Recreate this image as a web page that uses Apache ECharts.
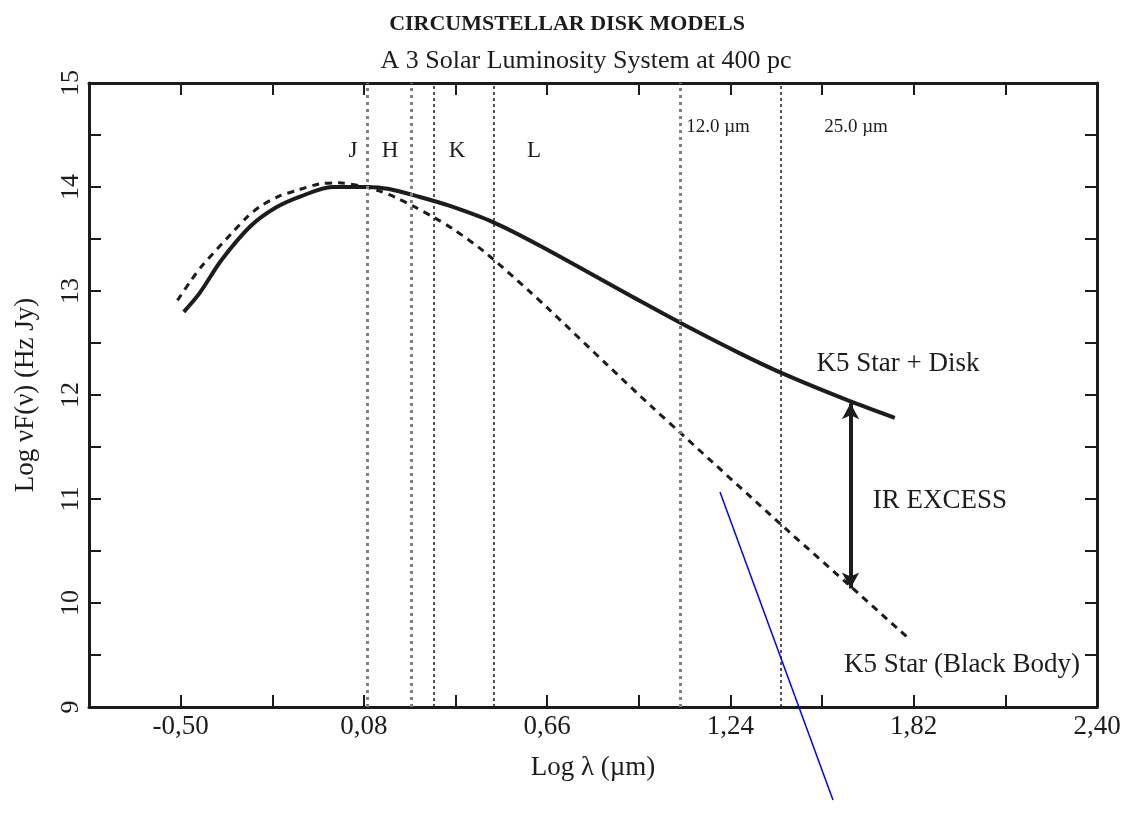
<!DOCTYPE html>
<html>
<head>
<meta charset="utf-8">
<script src="https://cdn.jsdelivr.net/npm/echarts@6/dist/echarts.min.js"></script>
<style>
html, body { margin: 0; background: #fff; }
#chart { width: 1126px; height: 814px; }
</style>
</head>
<body>
<div id="chart"></div>
<script>
// values: x = log lambda (um), y = log nuF(nu) (Hz Jy)
const diskX = [-0.49, -0.44, -0.37, -0.28, -0.20, -0.12, -0.02, 0.09, 0.16, 0.25, 0.35, 0.49, 0.64, 0.95, 1.09, 1.27, 1.41, 1.61, 1.76];
const diskY = [12.80, 12.98, 13.30, 13.62, 13.80, 13.91, 14.00, 14.00, 13.98, 13.91, 13.82, 13.66, 13.43, 12.91, 12.68, 12.40, 12.20, 11.95, 11.78];

const starX = [-0.51, -0.47, -0.43, -0.34, -0.29, -0.25, -0.19, -0.13, -0.06, 0.00, 0.07, 0.13, 0.18, 0.24, 0.30, 0.36, 0.46, 0.61, 0.66, 0.85, 0.99, 1.08, 1.42, 1.62, 1.80];
const starY = [12.91, 13.09, 13.25, 13.55, 13.71, 13.81, 13.91, 13.97, 14.03, 14.04, 14.01, 13.96, 13.90, 13.81, 13.71, 13.60, 13.38, 12.98, 12.84, 12.29, 11.89, 11.64, 10.70, 10.16, 9.67];

// band edges and filter lines (log um)
const bandLabels = ['J', 'H', 'K', 'L'];
const bandEdges = [0.094, 0.229, 0.298, 0.489];
const filterLabels = ['12.0 \u00b5m', '25.0 \u00b5m'];
const filterLines = [1.085, 1.40];

// IR excess arrow
const excessX = 1.62;
const excessY = [11.92, 10.14];

// axes
const xMin = -0.79, xMax = 2.40, xStep = 0.29;
const yMin = 9, yMax = 15, yStep = 0.5;

const font = 'Liberation Serif';
const ink = '#1c1c1c';

const chart = echarts.init(document.getElementById('chart'));

const xLabel = v => {
  const k = Math.round((v - xMin) / xStep);
  return k % 2 === 1 ? v.toFixed(2).replace('.', ',') : '';
};
const yLabel = v => (Math.abs(v - Math.round(v)) < 1e-6 ? String(Math.round(v)) : '');

const boxAxis = {
  axisLine: { show: true, onZero: false, lineStyle: { color: ink, width: 3 } },
  axisTick: { show: true, inside: true, length: 12, lineStyle: { color: ink, width: 2 } },
  splitLine: { show: false }
};

// dotted vertical lines: grey heavy ones and thin black ones
const grey = { color: '#808080', width: 3, type: [3, 4] };
const black = { color: ink, width: 1.5, type: [3, 3] };
const vLines = [
  { xAxis: bandEdges[0], lineStyle: grey },
  { xAxis: bandEdges[1], lineStyle: grey },
  { xAxis: bandEdges[2], lineStyle: black },
  { xAxis: bandEdges[3], lineStyle: black },
  { xAxis: filterLines[0], lineStyle: grey },
  { xAxis: filterLines[1], lineStyle: black }
];

const txt = (x, y, text, size) => ({
  type: 'text',
  x: x,
  y: y,
  style: {
    text: text,
    font: size + 'px "' + font + '"',
    fill: ink,
    textAlign: 'center',
    textVerticalAlign: 'middle'
  }
});

const option = {
  animation: false,
  backgroundColor: '#fff',
  title: [
    {
      text: 'CIRCUMSTELLAR DISK MODELS',
      left: 562,
      top: 8,
      textAlign: 'center',
      textStyle: { fontFamily: font, fontSize: 22, fontWeight: 'bold', color: ink }
    },
    {
      text: 'A 3 Solar Luminosity System at 400 pc',
      left: 581,
      top: 43,
      textAlign: 'center',
      textStyle: { fontFamily: font, fontSize: 26, fontWeight: 'normal', color: ink }
    }
  ],
  grid: { left: 89, right: 29, top: 83, bottom: 107, containLabel: false },
  xAxis: [
    Object.assign({}, boxAxis, {
      type: 'value',
      position: 'bottom',
      min: xMin,
      max: xMax,
      interval: xStep,
      name: 'Log \u03bb (\u00b5m)',
      nameLocation: 'middle',
      nameGap: 47,
      nameTextStyle: { fontFamily: font, fontSize: 27, color: ink },
      axisLabel: {
        formatter: xLabel,
        margin: 6,
        showMinLabel: true,
        showMaxLabel: true,
        fontFamily: font,
        fontSize: 27,
        color: ink
      }
    }),
    Object.assign({}, boxAxis, {
      type: 'value',
      position: 'top',
      min: xMin,
      max: xMax,
      interval: xStep,
      axisLabel: { show: false }
    })
  ],
  yAxis: [
    Object.assign({}, boxAxis, {
      type: 'value',
      position: 'left',
      min: yMin,
      max: yMax,
      interval: yStep,
      name: 'Log \u03bdF(\u03bd) (Hz Jy)',
      nameLocation: 'middle',
      nameRotate: 90,
      nameGap: 50,
      nameTextStyle: { fontFamily: font, fontSize: 27, color: ink },
      axisLabel: {
        formatter: yLabel,
        rotate: 90,
        margin: 5,
        showMinLabel: true,
        showMaxLabel: true,
        fontFamily: font,
        fontSize: 26,
        color: ink
      }
    }),
    Object.assign({}, boxAxis, {
      type: 'value',
      position: 'right',
      min: yMin,
      max: yMax,
      interval: yStep,
      axisLabel: { show: false }
    })
  ],
  series: [
    {
      name: 'K5 Star + Disk',
      type: 'line',
      data: diskX.map((x, i) => [x, diskY[i]]),
      smooth: 0.3,
      symbol: 'none',
      lineStyle: { color: ink, width: 4 },
      markLine: {
        silent: true,
        symbol: 'none',
        label: { show: false },
        data: vLines
      },
      z: 3
    },
    {
      name: 'K5 Star (Black Body)',
      type: 'line',
      data: starX.map((x, i) => [x, starY[i]]),
      smooth: 0.3,
      symbol: 'none',
      lineStyle: { color: ink, width: 3, type: [7, 6] },
      markLine: {
        silent: true,
        label: { show: false },
        lineStyle: { color: ink, width: 4, type: 'solid' },
        data: [[
          { coord: [excessX, excessY[0]], symbol: 'arrow', symbolSize: [13, 16] },
          { coord: [excessX, excessY[1]], symbol: 'arrow', symbolSize: [13, 16] }
        ]]
      },
      z: 3
    }
  ],
  graphic: [
    txt(353, 151, bandLabels[0], 23),
    txt(390, 151, bandLabels[1], 23),
    txt(457, 151, bandLabels[2], 23),
    txt(534, 151, bandLabels[3], 23),
    txt(718, 127, filterLabels[0], 19),
    txt(856, 127, filterLabels[1], 19),
    txt(898, 364, 'K5 Star + Disk', 27),
    txt(940, 501, 'IR EXCESS', 27),
    txt(962, 665, 'K5 Star (Black Body)', 27),
    {
      type: 'line',
      shape: { x1: 720, y1: 492, x2: 833, y2: 800 },
      style: { stroke: '#0000ff', lineWidth: 1.5 },
      z: 10
    }
  ]
};

chart.setOption(option);
</script>
</body>
</html>
